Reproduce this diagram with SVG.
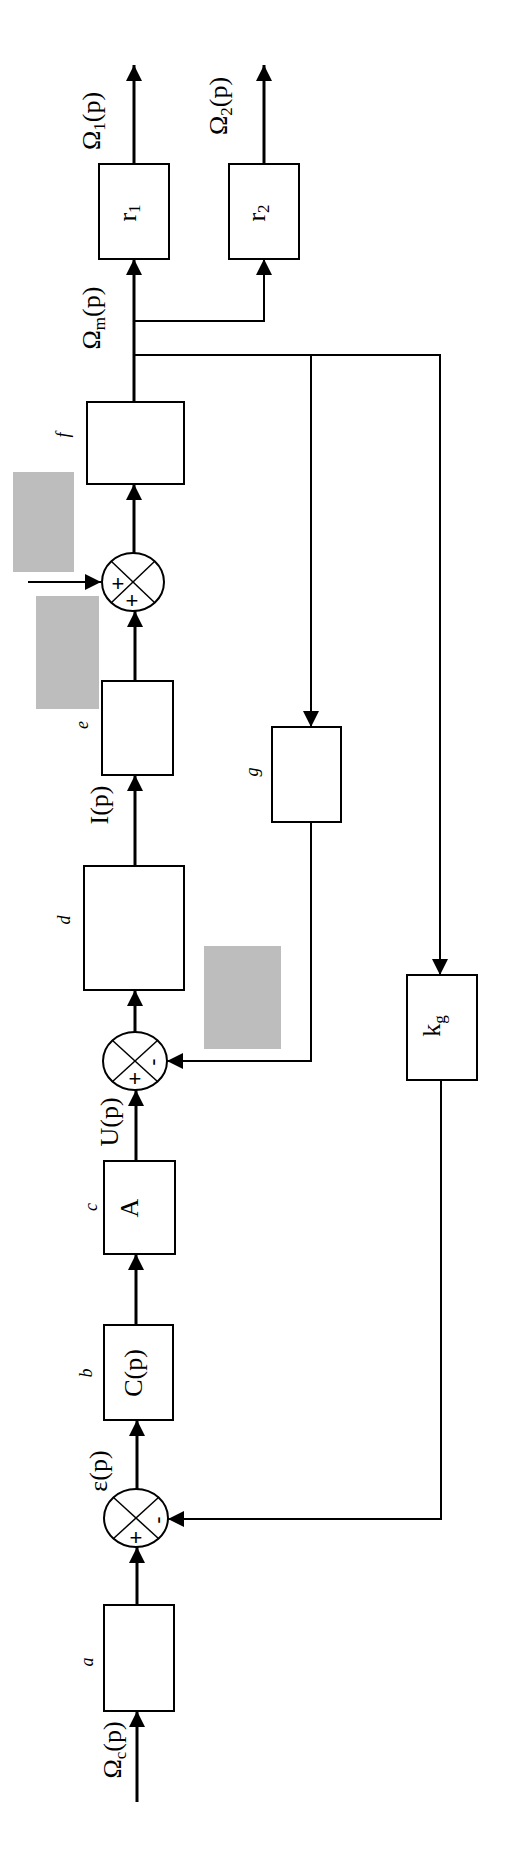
<svg xmlns="http://www.w3.org/2000/svg" width="519" height="1853" viewBox="0 0 519 1853">
<style>
.box{fill:#fff;stroke:#000;stroke-width:2}
.main{fill:none;stroke:#000;stroke-width:3}
.fb{fill:none;stroke:#000;stroke-width:2}
.sum{fill:#fff;stroke:#000;stroke-width:2}
.x{stroke:#000;stroke-width:1.5}
.grey{fill:#bdbdbd}
.lbl{font-family:"Liberation Serif",serif;font-size:26px;fill:#000}
.it{font-family:"Liberation Serif",serif;font-style:italic;font-size:18px;fill:#000}
.sg{font-family:"Liberation Sans",sans-serif;font-size:22px;fill:#000}
</style>
<defs>
<marker id="ah" markerUnits="userSpaceOnUse" markerWidth="16" markerHeight="16" refX="16" refY="8" orient="auto">
<path d="M0,0 L16,8 L0,16 z" fill="#000"/>
</marker>
</defs>
<rect width="519" height="1853" fill="#fff"/>
<g id="shading">
<rect class="grey" x="13" y="472" width="61" height="100"/>
<rect class="grey" x="36" y="596" width="63" height="113"/>
<rect class="grey" x="204" y="946" width="77" height="103"/>
</g>
<g id="connectors">
<path class="main" d="M137,1802 V1711" marker-end="url(#ah)"/>
<path class="main" d="M137,1605 V1547" marker-end="url(#ah)"/>
<path class="main" d="M137,1489 V1420" marker-end="url(#ah)"/>
<path class="main" d="M136,1325 V1254" marker-end="url(#ah)"/>
<path class="main" d="M136,1161 V1090" marker-end="url(#ah)"/>
<path class="main" d="M135,1032 V990" marker-end="url(#ah)"/>
<path class="main" d="M135,866 V775" marker-end="url(#ah)"/>
<path class="main" d="M135,681 V611" marker-end="url(#ah)"/>
<path class="main" d="M134,553 V484" marker-end="url(#ah)"/>
<path class="main" d="M134,402 V259" marker-end="url(#ah)"/>
<path class="main" d="M134,164 V65" marker-end="url(#ah)"/>
<path class="fb" d="M134,321 H264 V259" marker-end="url(#ah)"/>
<path class="main" d="M264,164 V65" marker-end="url(#ah)"/>
<path class="fb" d="M134,355 H440 V975" marker-end="url(#ah)"/>
<path class="fb" d="M311,355 V727" marker-end="url(#ah)"/>
<path class="fb" d="M311,822 V1061 H167" marker-end="url(#ah)"/>
<path class="fb" d="M441,1080 V1519 H168" marker-end="url(#ah)"/>
<path class="fb" d="M28,582 H101" marker-end="url(#ah)"/>
</g>
<g id="a"><rect class="box" x="104" y="1605" width="70" height="106"/><text class="it" transform="rotate(-90 93 1662)" x="93" y="1662" text-anchor="middle">a</text></g>
<g id="sum1">
<ellipse class="sum" cx="136" cy="1518" rx="32" ry="29"/>
<line class="x" x1="113" y1="1497" x2="159" y2="1539"/><line class="x" x1="113" y1="1539" x2="159" y2="1497"/>
<text class="sg" transform="rotate(-90 157 1520)" x="157" y="1520" text-anchor="middle" dominant-baseline="central">-</text>
<text class="sg" x="136" y="1537" text-anchor="middle" dominant-baseline="central">+</text>
</g>
<g id="b"><rect class="box" x="104" y="1325" width="69" height="95"/><text class="lbl" transform="rotate(-90 142 1373)" x="142" y="1373" text-anchor="middle">C(p)</text><text class="it" transform="rotate(-90 92 1373)" x="92" y="1373" text-anchor="middle">b</text></g>
<g id="c"><rect class="box" x="104" y="1161" width="71" height="93"/><text class="lbl" transform="rotate(-90 138 1208)" x="138" y="1208" text-anchor="middle" font-size="23">A</text><text class="it" transform="rotate(-90 97 1207)" x="97" y="1207" text-anchor="middle">c</text></g>
<g id="sum2">
<ellipse class="sum" cx="135" cy="1061" rx="32" ry="29"/>
<line class="x" x1="112" y1="1040" x2="158" y2="1082"/><line class="x" x1="112" y1="1082" x2="158" y2="1040"/>
<text class="sg" transform="rotate(-90 152 1062)" x="152" y="1062" text-anchor="middle" dominant-baseline="central">-</text>
<text class="sg" x="135" y="1078" text-anchor="middle" dominant-baseline="central">+</text>
</g>
<g id="d"><rect class="box" x="84" y="866" width="100" height="124"/><text class="it" transform="rotate(-90 70 920)" x="70" y="920" text-anchor="middle">d</text></g>
<g id="e"><rect class="box" x="102" y="681" width="71" height="94"/><text class="it" transform="rotate(-90 88 725)" x="88" y="725" text-anchor="middle">e</text></g>
<g id="sum3">
<ellipse class="sum" cx="133" cy="582" rx="31" ry="29"/>
<line class="x" x1="111" y1="561" x2="155" y2="603"/><line class="x" x1="111" y1="603" x2="155" y2="561"/>
<text class="sg" x="118" y="583" text-anchor="middle" dominant-baseline="central">+</text>
<text class="sg" x="132" y="600" text-anchor="middle" dominant-baseline="central">+</text>
</g>
<g id="f"><rect class="box" x="87" y="402" width="97" height="82"/><text class="it" transform="rotate(-90 69 435)" x="69" y="435" text-anchor="middle">f</text></g>
<g id="r1"><rect class="box" x="99" y="164" width="70" height="95"/><text class="lbl" transform="rotate(-90 136 213)" x="136" y="213" text-anchor="middle">r<tspan font-size="17" dy="4">1</tspan></text></g>
<g id="r2"><rect class="box" x="229" y="164" width="70" height="95"/><text class="lbl" transform="rotate(-90 265 213)" x="265" y="213" text-anchor="middle">r<tspan font-size="17" dy="4">2</tspan></text></g>
<g id="g"><rect class="box" x="272" y="727" width="69" height="95"/><text class="it" transform="rotate(-90 258 772)" x="258" y="772" text-anchor="middle">g</text></g>
<g id="kg"><rect class="box" x="407" y="975" width="70" height="105"/><text class="lbl" transform="rotate(-90 440 1026)" x="440" y="1026" text-anchor="middle">k<tspan font-size="17" dy="5">g</tspan></text></g>
<g id="signals">
<text class="lbl" transform="rotate(-90 100 121)" x="100" y="121" text-anchor="middle">Ω<tspan font-size="17" dy="5">1</tspan><tspan dy="-5">(p)</tspan></text>
<text class="lbl" transform="rotate(-90 227 106)" x="227" y="106" text-anchor="middle">Ω<tspan font-size="17" dy="5">2</tspan><tspan dy="-5">(p)</tspan></text>
<text class="lbl" transform="rotate(-90 100 318)" x="100" y="318" text-anchor="middle">Ω<tspan font-size="17" dy="5">m</tspan><tspan dy="-5">(p)</tspan></text>
<text class="lbl" transform="rotate(-90 108 805)" x="108" y="805" text-anchor="middle">I(p)</text>
<text class="lbl" transform="rotate(-90 118 1122)" x="118" y="1122" text-anchor="middle">U(p)</text>
<text class="lbl" transform="rotate(-90 107 1471)" x="107" y="1471" text-anchor="middle">ε(p)</text>
<text class="lbl" transform="rotate(-90 121 1750)" x="121" y="1750" text-anchor="middle">Ω<tspan font-size="17" dy="5">c</tspan><tspan dy="-5">(p)</tspan></text>
</g>
</svg>
